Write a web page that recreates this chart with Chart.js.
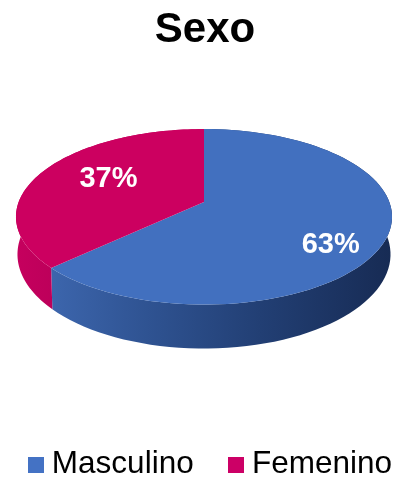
<!DOCTYPE html>
<html>
<head>
<meta charset="utf-8">
<style>
  html, body { margin: 0; padding: 0; background: #fff; }
  canvas { display: block; }
</style>
<script src="https://cdn.jsdelivr.net/npm/chart.js@4/dist/chart.umd.min.js"></script>
</head>
<body>
<canvas id="chart" width="418" height="481"></canvas>
<script>
const categories = ["Masculino", "Femenino"];
const shares = [63, 37];
const sliceColors = ["#4270BF", "#CC0060"];
const legendColors = ["#4472C4", "#CC0066"];
const chartTitle = "Sexo";

// perspective of the tilted disc
const tilt = 0.17;
const squash = 0.46;
const lift = 19.8;
const shiftX = -5;
const depth = 36.5;
const font = "'Liberation Sans', Arial, sans-serif";

function project(arc, angle, drop) {
  const u = Math.cos(angle), v = Math.sin(angle);
  const w = 1 - tilt * v;
  const shrink = drop ? 0.992 : 1;
  return {
    x: arc.x + shiftX + arc.outerRadius * shrink * u / w,
    y: arc.y - lift + arc.outerRadius * squash * v / w + (drop ? depth / w : 0)
  };
}

function rimPoints(arc, drop) {
  const steps = 90, pts = [];
  for (let i = 0; i <= steps; i++) {
    pts.push(project(arc, arc.startAngle + (arc.endAngle - arc.startAngle) * i / steps, drop));
  }
  return pts;
}

function wallFill(ctx, index) {
  const g = ctx.createLinearGradient(15, 0, 392, 0);
  if (index === 0) {
    g.addColorStop(0.1, "#3C65AC");
    g.addColorStop(0.35, "#2F5392");
    g.addColorStop(0.65, "#223F74");
    g.addColorStop(1, "#172B54");
  } else {
    g.addColorStop(0, "#C6005E");
    g.addColorStop(0.11, "#BC005A");
  }
  return g;
}

const disc3d = {
  id: "disc3d",
  beforeDatasetDraw(chart) {
    const ctx = chart.ctx;
    const arcs = chart.getDatasetMeta(0).data;
    ctx.save();
    arcs.forEach((arc, i) => {
      const top = rimPoints(arc, false), bottom = rimPoints(arc, true).reverse();
      ctx.beginPath();
      top.concat(bottom).forEach((p, k) => k ? ctx.lineTo(p.x, p.y) : ctx.moveTo(p.x, p.y));
      ctx.closePath();
      ctx.fillStyle = wallFill(ctx, i);
      ctx.fill();
    });
    arcs.forEach((arc, i) => {
      ctx.beginPath();
      ctx.moveTo(arc.x + shiftX, arc.y - lift);
      rimPoints(arc, false).forEach(p => ctx.lineTo(p.x, p.y));
      ctx.closePath();
      ctx.fillStyle = sliceColors[i];
      ctx.fill();
    });
    ctx.restore();
    return false; // the flat pie is replaced by the tilted one
  },
  afterDatasetsDraw(chart) {
    const ctx = chart.ctx;
    const arcs = chart.getDatasetMeta(0).data;
    const reach = [0.695, 0.6], nudge = [17.5, -4];
    ctx.save();
    ctx.font = "bold 29px " + font;
    ctx.fillStyle = "#fff";
    ctx.textAlign = "center";
    ctx.textBaseline = "middle";
    arcs.forEach((arc, i) => {
      const p = project(arc, (arc.startAngle + arc.endAngle) / 2, false);
      const cx = arc.x + shiftX, cy = arc.y - lift;
      ctx.fillText(shares[i] + "%", cx + (p.x - cx) * reach[i], cy + (p.y - cy) * reach[i] + nudge[i]);
    });
    ctx.restore();
  }
};

function swatch(color) {
  const c = document.createElement("canvas");
  c.width = 16;
  c.height = 16;
  const g = c.getContext("2d");
  g.fillStyle = color;
  g.fillRect(0, 0, 16, 16);
  return c;
}

new Chart(document.getElementById("chart"), {
  type: "pie",
  data: {
    labels: categories,
    datasets: [{ data: shares, backgroundColor: sliceColors, borderWidth: 0 }]
  },
  options: {
    responsive: false,
    animation: false,
    layout: { padding: { left: -24, right: -16, top: 0, bottom: -9.5 } },
    plugins: {
      tooltip: { enabled: false },
      title: {
        display: true,
        text: chartTitle,
        color: "#000",
        font: { family: font, size: 42, weight: "bold", lineHeight: 1.2 },
        padding: { top: 5, bottom: -19 }
      },
      legend: {
        position: "bottom",
        align: "end",
        labels: {
          color: "#000",
          font: { family: font, size: 31.5 },
          padding: 42,
          usePointStyle: true,
          pointStyleWidth: 0.5,
          boxHeight: 16,
          generateLabels: () => categories.map((text, i) => ({
            text,
            index: i,
            hidden: false,
            fontColor: "#000",
            pointStyle: swatch(legendColors[i])
          }))
        }
      }
    }
  },
  plugins: [disc3d]
});
</script>
</body>
</html>
